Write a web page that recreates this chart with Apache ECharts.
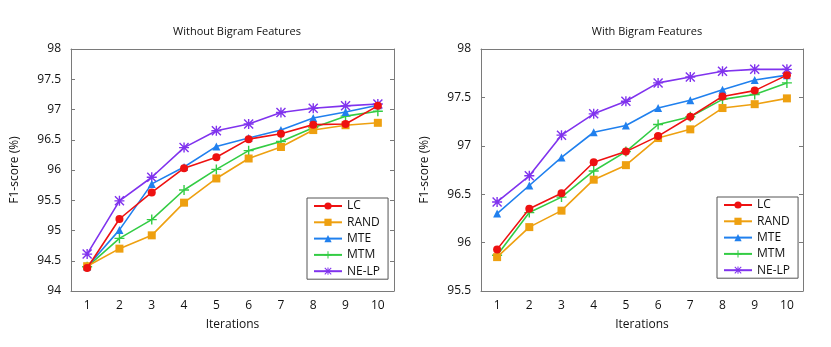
<!DOCTYPE html>
<html>
<head>
<meta charset="utf-8">
<script src="https://cdn.jsdelivr.net/npm/echarts@6/dist/echarts.min.js"></script>
<style>
  html, body { margin: 0; padding: 0; background: #fff; }
  #main { width: 831px; height: 347px; }
</style>
</head>
<body>
<div id="main"></div>
<script>
// data
var iterations = ['1', '2', '3', '4', '5', '6', '7', '8', '9', '10'];
var methods = ['LC', 'RAND', 'MTE', 'MTM', 'NE-LP'];

// Without Bigram Features
var noBigramLC   = [94.38, 95.19, 95.63, 96.03, 96.21, 96.51, 96.60, 96.75, 96.76, 97.06];
var noBigramRAND = [94.41, 94.70, 94.92, 95.46, 95.86, 96.19, 96.38, 96.66, 96.74, 96.78];
var noBigramMTE  = [94.40, 95.01, 95.77, 96.05, 96.39, 96.53, 96.66, 96.86, 96.96, 97.07];
var noBigramMTM  = [94.40, 94.87, 95.18, 95.67, 96.01, 96.32, 96.47, 96.70, 96.89, 96.97];
var noBigramNELP = [94.61, 95.49, 95.88, 96.37, 96.65, 96.76, 96.95, 97.02, 97.06, 97.09];

// With Bigram Features
var bigramLC   = [95.93, 96.35, 96.51, 96.83, 96.94, 97.10, 97.30, 97.51, 97.57, 97.73];
var bigramRAND = [95.85, 96.16, 96.33, 96.65, 96.80, 97.08, 97.17, 97.39, 97.43, 97.49];
var bigramMTE  = [96.30, 96.59, 96.88, 97.14, 97.21, 97.39, 97.47, 97.58, 97.68, 97.73];
var bigramMTM  = [95.87, 96.31, 96.47, 96.74, 96.94, 97.22, 97.30, 97.48, 97.53, 97.65];
var bigramNELP = [96.42, 96.69, 97.11, 97.33, 97.46, 97.65, 97.71, 97.77, 97.79, 97.79];

var colors = ['#ee1111', '#eea010', '#2080ee', '#33cc44', '#8033ee'];

// gnuplot-like "+" and "*" point types
var plusPath = 'path://M4.3,0 L5.7,0 L5.7,10 L4.3,10 Z M0,4.3 L10,4.3 L10,5.7 L0,5.7 Z';
var starPath = 'path://M4.3,0 L5.7,0 L5.7,10 L4.3,10 Z M0,4.3 L10,4.3 L10,5.7 L0,5.7 Z ' +
  'M0,1 L1,0 L10,9 L9,10 Z M9,0 L10,1 L1,10 L0,9 Z';
var symbols = ['circle', 'rect', 'triangle', plusPath, starPath];
var symSizes = [8, 8, 8, 10, 10];

var font = 'Open Sans';
var txt = '#111';
var frame = '#7a7a7a';

function makeSeries(dataSets, axisIdx) {
  return dataSets.map(function (d, i) {
    return {
      name: methods[i],
      type: 'line',
      xAxisIndex: axisIdx,
      yAxisIndex: axisIdx,
      data: d,
      symbol: symbols[i],
      symbolSize: symSizes[i],
      showAllSymbol: true,
      lineStyle: { width: 1.6, color: colors[i] },
      itemStyle: { color: colors[i] },
      z: 10 - i
    };
  });
}

function bottomX(gridIdx) {
  return {
    type: 'category', gridIndex: gridIdx, data: iterations, boundaryGap: true,
    name: 'Iterations', nameLocation: 'middle', nameGap: 28,
    nameTextStyle: { fontFamily: font, fontSize: 12, color: txt },
    axisLine: { lineStyle: { color: frame } },
    axisTick: { alignWithLabel: true, inside: true, length: 4, lineStyle: { color: frame } },
    axisLabel: { fontFamily: font, fontSize: 12, color: txt, margin: 9 },
    splitLine: { show: false }
  };
}
function topX(gridIdx) {
  return {
    type: 'category', gridIndex: gridIdx, data: iterations, position: 'top', boundaryGap: true,
    axisLine: { lineStyle: { color: frame } },
    axisTick: { alignWithLabel: true, inside: true, length: 4, lineStyle: { color: frame } },
    axisLabel: { show: false }, splitLine: { show: false }
  };
}
function leftY(gridIdx, min, max) {
  return {
    type: 'value', gridIndex: gridIdx, min: min, max: max, interval: 0.5,
    name: 'F1-score (%)', nameLocation: 'middle', nameGap: 50, nameRotate: 90,
    nameTextStyle: { fontFamily: font, fontSize: 12, color: txt },
    axisLine: { show: true, lineStyle: { color: frame } },
    axisTick: { show: true, inside: true, length: 4, lineStyle: { color: frame } },
    axisLabel: { fontFamily: font, fontSize: 12, color: txt, margin: 10 },
    splitLine: { show: false }
  };
}
function rightY(gridIdx, min, max) {
  return {
    type: 'value', gridIndex: gridIdx, min: min, max: max, interval: 0.5, position: 'right',
    axisLine: { show: true, lineStyle: { color: frame } },
    axisTick: { show: true, inside: true, length: 4, lineStyle: { color: frame } },
    axisLabel: { show: false }, splitLine: { show: false }
  };
}
function legendBox(left, top) {
  return {
    data: methods, orient: 'vertical', left: left, top: top,
    itemWidth: 28, itemHeight: 9, itemGap: 4.3,
    padding: [2, 8, 2, 6],
    borderColor: '#555', borderWidth: 1, borderRadius: 0,
    backgroundColor: '#fff',
    selectedMode: false,
    textStyle: { fontFamily: font, fontSize: 12, color: txt }
  };
}

var chart = echarts.init(document.getElementById('main'));
var option = {
  animation: false,
  backgroundColor: '#fff',
  title: [
    { text: 'Without Bigram Features', left: 232, top: 21, textAlign: 'center',
      textStyle: { fontFamily: font, fontSize: 11, fontWeight: 'normal', color: txt } },
    { text: 'With Bigram Features', left: 642, top: 21, textAlign: 'center',
      textStyle: { fontFamily: font, fontSize: 11, fontWeight: 'normal', color: txt } }
  ],
  legend: [legendBox(307, 198), legendBox(717, 197)],
  grid: [
    { left: 71, right: 437, top: 49, bottom: 56, containLabel: false },
    { left: 481, right: 28, top: 49, bottom: 56, containLabel: false }
  ],
  // axes 0/1 belong to the left panel, 2/3 to the right one
  xAxis: [bottomX(0), topX(0), bottomX(1), topX(1)],
  yAxis: [leftY(0, 94, 98), rightY(0, 94, 98), leftY(1, 95.5, 98), rightY(1, 95.5, 98)],
  series: makeSeries([noBigramLC, noBigramRAND, noBigramMTE, noBigramMTM, noBigramNELP], 0)
    .concat(makeSeries([bigramLC, bigramRAND, bigramMTE, bigramMTM, bigramNELP], 2))
};
chart.setOption(option);
</script>
</body>
</html>
